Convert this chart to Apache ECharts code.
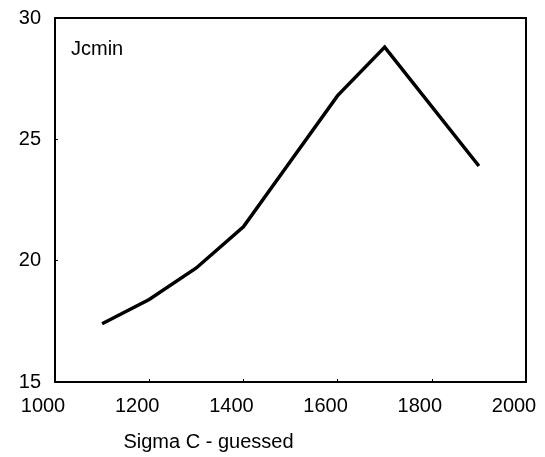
<!DOCTYPE html>
<html>
<head>
<meta charset="utf-8">
<script src="https://cdn.jsdelivr.net/npm/echarts@6/dist/echarts.min.js"></script>
<style>html,body{margin:0;padding:0;background:#fff}#c{width:545px;height:457px}</style>
</head>
<body>
<div id="c"></div>
<script>
var sigmaC = [1100, 1200, 1300, 1400, 1500, 1600, 1700, 1900];
var jcmin = [17.4, 18.4, 19.7, 21.4, 24.1, 26.8, 28.8, 23.9];
var xTicks = [1000, 1200, 1400, 1600, 1800, 2000];
var yTicks = [15, 20, 25, 30];
var titleText = 'Jcmin';
var xAxisTitle = 'Sigma C - guessed';

var font = 'Liberation Sans, Arial, sans-serif';
var chart = echarts.init(document.getElementById('c'), null, {renderer: 'canvas'});
chart.setOption({
  animation: false,
  backgroundColor: '#fff',
  title: {
    text: titleText, left: 66, top: 34,
    textStyle: {fontFamily: font, fontSize: 20, fontWeight: 'normal', color: '#000'}
  },
  grid: {left: 55, right: 19, top: 18, bottom: 72, show: true, borderColor: '#000', borderWidth: 2, backgroundColor: 'transparent'},
  xAxis: {
    type: 'value', min: xTicks[0], max: xTicks[xTicks.length - 1], interval: 200,
    name: xAxisTitle, nameLocation: 'middle', nameGap: 50,
    nameTextStyle: {fontFamily: font, fontSize: 20, color: '#000', padding: [0, 164, 0, 0]},
    axisLine: {show: true, lineStyle: {color: '#000', width: 2}},
    axisTick: {show: true, inside: true, length: 3, lineStyle: {color: '#000'}},
    splitLine: {show: false},
    axisLabel: {fontFamily: font, fontSize: 20, color: '#000', margin: 14, padding: [0, 24, 0, 0],
      formatter: function (v) { return String(v); }}
  },
  yAxis: {
    type: 'value', min: yTicks[0], max: yTicks[yTicks.length - 1], interval: 5,
    axisLine: {show: true, lineStyle: {color: '#000', width: 2}},
    axisTick: {show: true, inside: true, length: 3, lineStyle: {color: '#000'}},
    splitLine: {show: false},
    axisLabel: {fontFamily: font, fontSize: 20, color: '#000', margin: 14,
      formatter: function (v) { return String(v); }}
  },
  series: [{
    type: 'line',
    data: sigmaC.map(function (x, i) { return [x, jcmin[i]]; }),
    showSymbol: false,
    lineStyle: {color: '#000', width: 3.5, join: 'miter'}
  }]
});
</script>
</body>
</html>
